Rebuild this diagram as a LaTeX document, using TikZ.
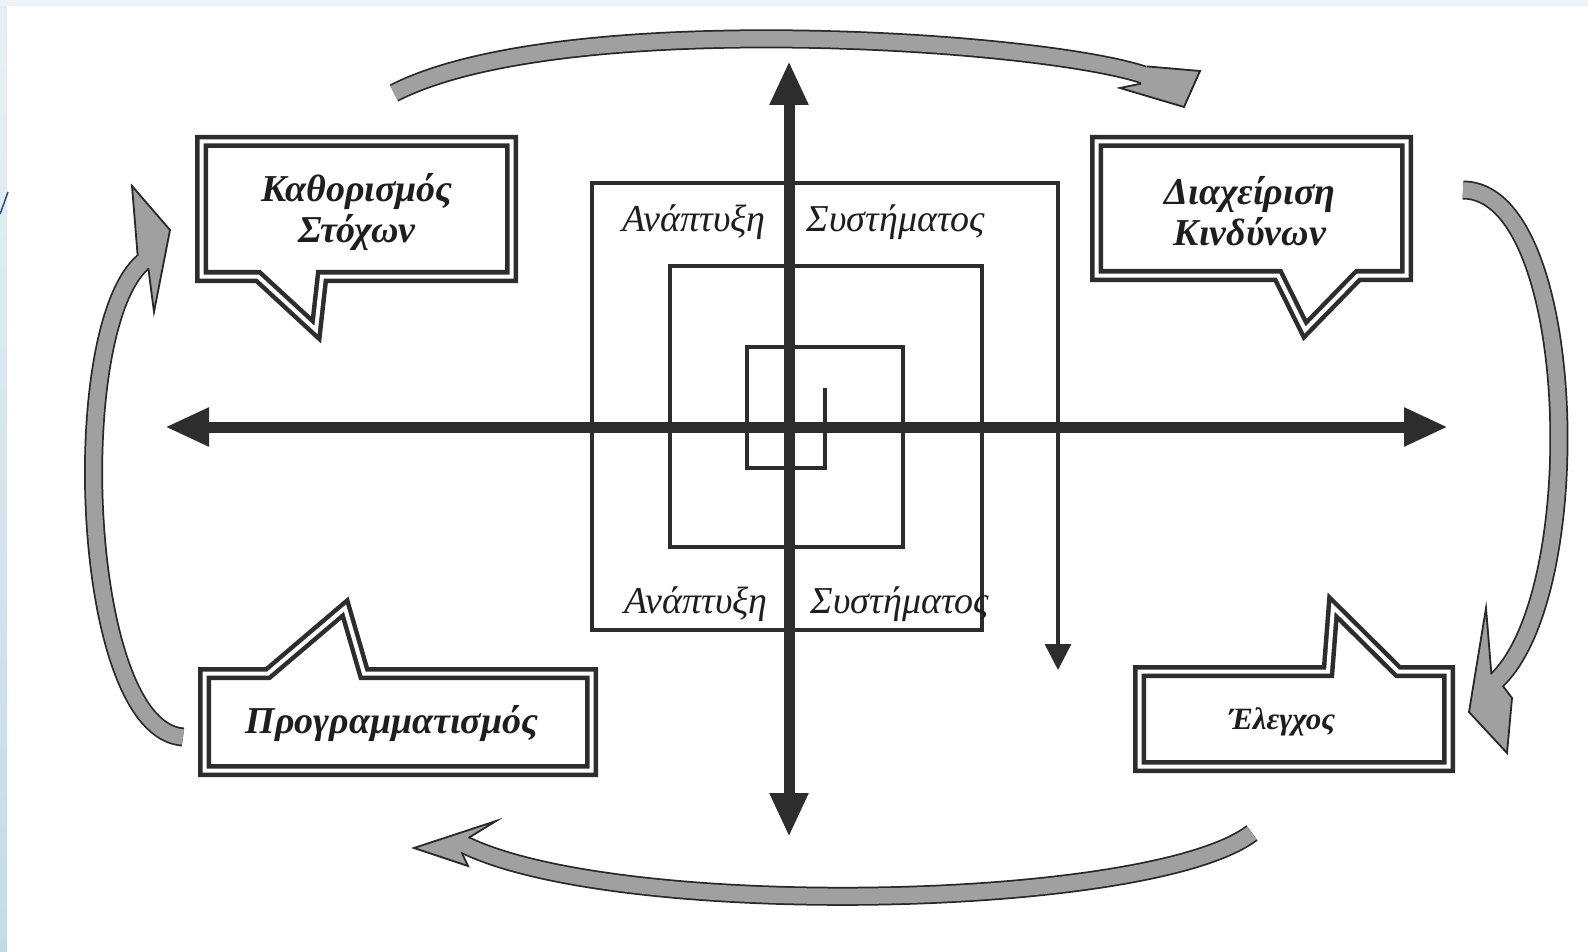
\documentclass[tikz,border=0pt]{standalone}
\usepackage{fontspec}
\setmainfont{Liberation Serif}
\usetikzlibrary{arrows.meta}
\definecolor{ink}{RGB}{45,45,45}
\definecolor{txt}{RGB}{30,30,30}
\definecolor{bandgray}{RGB}{160,160,160}
\definecolor{bandedge}{RGB}{40,40,40}
\definecolor{stripTop}{RGB}{230,240,244}
\definecolor{stripBot}{RGB}{196,219,229}
\definecolor{stripH}{RGB}{236,244,247}
\definecolor{curveblue}{RGB}{40,80,120}
\begin{document}
\begin{tikzpicture}[x=1pt,y=-1pt,
  axisline/.style={draw=ink, line width=11pt, {Triangle[length=44pt,width=36pt]}-{Triangle[length=44pt,width=36pt]}},
  spiralline/.style={draw=ink, line width=3.5pt, line join=miter},
  calloutframe/.style={draw=ink, line width=4.5pt, double=white, double distance=4pt, line join=miter, fill=white},
  boxtext/.style={font=\fontsize{38}{41}\selectfont\bfseries\itshape, text=txt, align=center, inner sep=0pt},
  smallboxtext/.style={font=\fontsize{31}{34}\selectfont\bfseries\itshape, text=txt, inner sep=0pt},
  midtext/.style={font=\fontsize{38}{40}\selectfont\itshape, text=txt, inner sep=0pt, anchor=base},
  bandout/.style={draw=bandedge, line width=19pt},
  bandin/.style={draw=bandgray, line width=15.5pt},
  headfill/.style={fill=bandgray, draw=bandgray, line width=1pt},
  headedge/.style={draw=bandedge, line width=1.8pt, line join=miter},
]
\useasboundingbox (0,0) rectangle (1588,952);
\fill[white] (0,0) rectangle (1588,952);
\shade[top color=stripTop, bottom color=stripBot] (0,0) rectangle (7,952);
\fill[stripH] (0,0) rectangle (1588,6);
\draw[curveblue, line width=1.5pt] (0,214) .. controls (3,206) .. (8,192);

% ---------- spiral ----------
\draw[spiralline, -{Triangle[length=26pt,width=26pt]}]
  (825,388) -- (825,468) -- (747,468) -- (747,347) -- (903,347) -- (903,547)
  -- (670,547) -- (670,266) -- (982,266) -- (982,630) -- (592,630) -- (592,183)
  -- (1058,183) -- (1058,670);

% ---------- central texts ----------
\node[midtext] (a1) at (694,232) {Ανάπτυξη};
\node[midtext] (s1) at (896,232) {Συστήματος};
\node[midtext] (a2) at (696,613) {Ανάπτυξη};
\node[midtext] (s2) at (900,613) {Συστήματος};

% ---------- axes ----------
\coordinate (xl) at (165,427);
\coordinate (xr) at (1448,427);
\coordinate (yt) at (789,61);
\coordinate (yb) at (789,837);
\draw[axisline] (xl) -- (xr);
\draw[axisline] (yt) -- (yb);

% ---------- callouts ----------
\draw[calloutframe] (201.5,141.5) -- (511.5,141.5) -- (511.5,276.5) -- (322,276.5)
  -- (316,330) -- (258,276.5) -- (201.5,276.5) -- cycle;
\draw[calloutframe] (1096.5,141.5) -- (1406.5,141.5) -- (1406.5,275.5) -- (1358,275.5)
  -- (1305,330) -- (1278,275.5) -- (1096.5,275.5) -- cycle;
\draw[calloutframe] (204.5,673.5) -- (268,673.5) -- (345,608) -- (364,673.5)
  -- (591.5,673.5) -- (591.5,770.5) -- (204.5,770.5) -- cycle;
\draw[calloutframe] (1139.5,671.5) -- (1328,671.5) -- (1333,607) -- (1398,671.5)
  -- (1448.5,671.5) -- (1448.5,766.5) -- (1139.5,766.5) -- cycle;

\node[boxtext] (kath) at (357,212) {Καθορισμός\\Στόχων};
\node[boxtext] (diax) at (1250,211) {Διαχείριση\\Κινδύνων};
\node[boxtext] (prog) at (392,724) {Προγραμματισμός};
\node[smallboxtext] (eleg) at (1282,722) {Έλεγχος};

% ---------- curved arrows ----------
% top
\coordinate (t0) at (394,93); \coordinate (t3) at (1144,75);
\draw[bandout] (t0) .. controls (560,8) and (1040,40) .. (t3);
\draw[bandin] (t0) .. controls (560,8) and (1040,40) .. (t3);
\fill[headfill] (1141.2,83.6) -- (1120,88) -- (1184,107) -- (1200,71) -- (1146.8,66.4) -- cycle;
\draw[headedge] (1141.2,83.6) -- (1120,88) -- (1184,107) -- (1200,71) -- (1146.8,66.4);
% right
\coordinate (r0) at (1463,190); \coordinate (r3) at (1497,680);
\draw[bandout] (r0) .. controls (1578,190) and (1590,590) .. (r3);
\draw[bandin] (r0) .. controls (1578,190) and (1590,590) .. (r3);
\fill[headfill] (1491.4,674.4) -- (1486,608) -- (1469,712) -- (1507,753) -- (1512,698) -- (1502.6,685.6) -- cycle;
\draw[headedge] (1491.4,674.4) -- (1486,608) -- (1469,712) -- (1507,753) -- (1512,698) -- (1502.6,685.6);
% bottom
\coordinate (b0) at (1252,833); \coordinate (b3) at (465,845);
\draw[bandout] (b0) .. controls (1150,910) and (620,920) .. (b3);
\draw[bandin] (b0) .. controls (1150,910) and (620,920) .. (b3);
\fill[headfill] (468.5,837.9) -- (496,821) -- (414,848) -- (468,866) -- (461.5,852.1) -- cycle;
\draw[headedge] (468.5,837.9) -- (496,821) -- (414,848) -- (468,866) -- (461.5,852.1);
% left
\coordinate (l0) at (183,737); \coordinate (l3) at (143,262);
\draw[bandout] (l0) .. controls (80,730) and (65,330) .. (l3);
\draw[bandin] (l0) .. controls (80,730) and (65,330) .. (l3);
\fill[headfill] (148.3,268.0) -- (154,312) -- (170,230) -- (132,186) -- (137.7,256.0) -- cycle;
\draw[headedge] (148.3,268.0) -- (154,312) -- (170,230) -- (132,186) -- (137.7,256.0);
\end{tikzpicture}
\end{document}
